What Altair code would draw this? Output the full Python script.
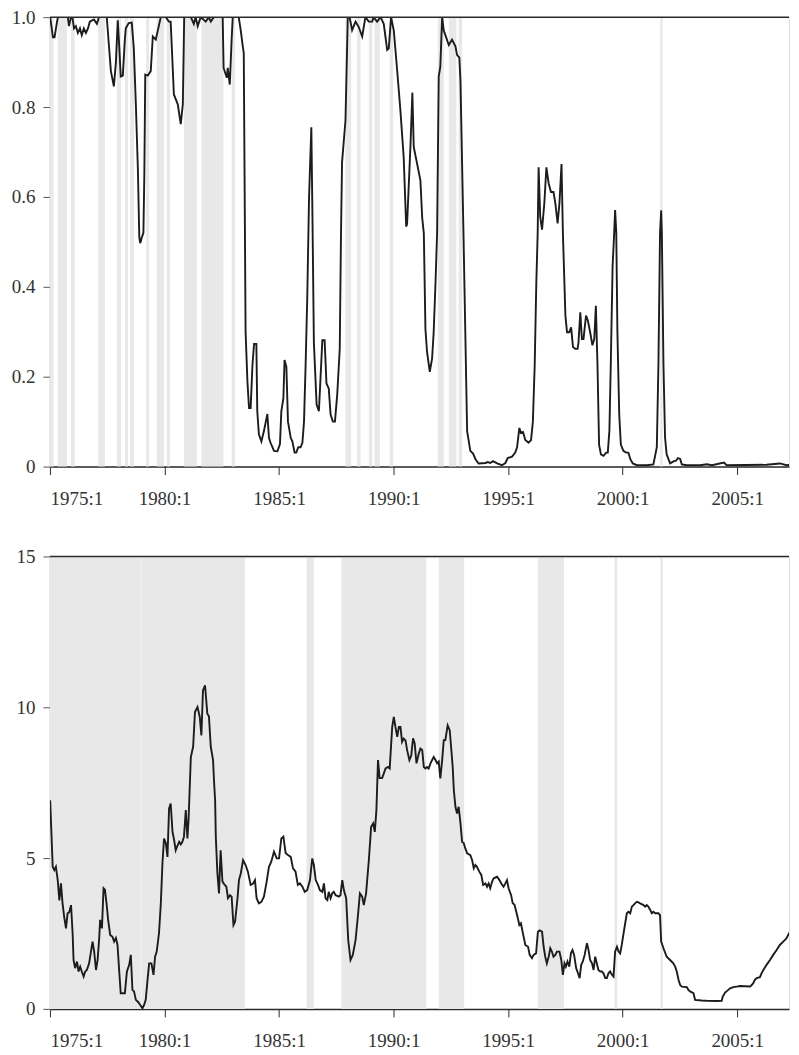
import altair as alt
import pandas as pd

# ---------------- data (decimal years, values) ----------------
top_t = [1975.01, 1975.13, 1975.20, 1975.31, 1975.35, 1975.78, 1975.83, 1975.92, 1975.98, 1976.05,
         1976.13, 1976.22, 1976.31, 1976.39, 1976.48, 1976.57, 1976.66, 1976.74, 1976.92, 1977.05,
         1977.14, 1977.48, 1977.66, 1977.79, 1977.88, 1977.96, 1978.03, 1978.09, 1978.18, 1978.27,
         1978.31, 1978.44, 1978.57, 1978.66, 1978.75, 1978.84, 1978.90, 1978.94, 1979.01, 1979.08,
         1979.12, 1979.16, 1979.27, 1979.40, 1979.49, 1979.62, 1979.75, 1979.84, 1980.06, 1980.19,
         1980.27, 1980.41, 1980.58, 1980.71, 1980.80, 1980.86, 1981.15, 1981.28, 1981.36, 1981.45,
         1981.58, 1981.80, 1981.93, 1982.02, 1982.15, 1982.54, 1982.58, 1982.72, 1982.76, 1982.85,
         1982.93, 1982.98, 1983.24, 1983.33, 1983.41, 1983.46, 1983.54, 1983.62, 1983.69, 1983.76,
         1983.84, 1983.91, 1984.01, 1984.05, 1984.12, 1984.23, 1984.34, 1984.49, 1984.56, 1984.63,
         1984.78, 1984.93, 1985.04, 1985.10, 1985.19, 1985.24, 1985.32, 1985.39, 1985.51, 1985.58,
         1985.68, 1985.75, 1985.84, 1985.94, 1986.02, 1986.09, 1986.16, 1986.23, 1986.31, 1986.41,
         1986.46, 1986.52, 1986.64, 1986.74, 1986.89, 1986.99, 1987.07, 1987.17, 1987.25, 1987.35,
         1987.44, 1987.54, 1987.65, 1987.70, 1987.75, 1987.90, 1988.00, 1988.08, 1988.19, 1988.34,
         1988.48, 1988.63, 1988.77, 1988.92, 1989.07, 1989.12, 1989.28, 1989.43, 1989.57, 1989.72,
         1989.79, 1989.89, 1990.01, 1990.16, 1990.30, 1990.44, 1990.55, 1990.59, 1990.74, 1990.82,
         1990.88, 1991.03, 1991.17, 1991.25, 1991.32, 1991.39, 1991.46, 1991.58, 1991.68, 1991.75,
         1991.83, 1991.90, 1991.97, 1992.04, 1992.12, 1992.19, 1992.26, 1992.41, 1992.55, 1992.70,
         1992.77, 1992.87, 1992.92, 1992.98, 1993.05, 1993.13, 1993.21, 1993.35, 1993.47, 1993.57,
         1993.71, 1994.01, 1994.11, 1994.22, 1994.34, 1994.52, 1994.73, 1994.88, 1994.98, 1995.17,
         1995.31, 1995.39, 1995.49, 1995.56, 1995.65, 1995.75, 1995.89, 1996.00, 1996.08, 1996.16,
         1996.23, 1996.29, 1996.33, 1996.40, 1996.48, 1996.58, 1996.67, 1996.77, 1996.87, 1996.98,
         1997.06, 1997.16, 1997.24, 1997.33, 1997.39, 1997.50, 1997.57, 1997.67, 1997.75, 1997.83,
         1997.93, 1998.03, 1998.07, 1998.15, 1998.22, 1998.29, 1998.40, 1998.48, 1998.58, 1998.68,
         1998.76, 1998.83, 1998.90, 1998.97, 1999.05, 1999.16, 1999.28, 1999.35, 1999.42, 1999.48,
         1999.56, 1999.63, 1999.67, 1999.72, 1999.77, 1999.85, 1999.92, 2000.03, 2000.15, 2000.25,
         2000.33, 2000.44, 2000.62, 2001.05, 2001.34, 2001.49, 2001.56, 2001.63, 2001.68, 2001.71,
         2001.78, 2001.85, 2001.92, 2002.07, 2002.24, 2002.33, 2002.41, 2002.51, 2002.58, 2002.80,
         2003.38, 2003.67, 2003.90, 2004.42, 2004.54, 2006.28, 2006.86, 2007.16, 2007.69]
top_v = [1.000, 0.955, 0.955, 0.990, 1.000, 1.000, 0.980, 1.000, 1.000, 0.975,
         0.980, 0.965, 0.975, 0.960, 0.975, 0.965, 0.975, 0.990, 0.995, 0.985,
         1.000, 1.000, 0.880, 0.846, 0.900, 0.993, 0.930, 0.868, 0.870, 0.950,
         0.975, 0.987, 0.988, 0.931, 0.806, 0.659, 0.510, 0.497, 0.510, 0.520,
         0.650, 0.872, 0.870, 0.880, 0.957, 0.950, 0.980, 1.000, 1.000, 0.990,
         0.990, 0.828, 0.806, 0.762, 0.806, 1.000, 1.000, 0.985, 1.000, 0.980,
         1.000, 0.990, 1.000, 0.990, 1.000, 1.000, 0.887, 0.865, 0.887, 0.850,
         0.950, 1.000, 1.000, 0.970, 0.938, 0.920, 0.300, 0.189, 0.130, 0.130,
         0.226, 0.273, 0.273, 0.123, 0.072, 0.056, 0.079, 0.117, 0.064, 0.053,
         0.035, 0.034, 0.050, 0.123, 0.152, 0.237, 0.222, 0.100, 0.064, 0.056,
         0.031, 0.031, 0.043, 0.043, 0.053, 0.100, 0.226, 0.372, 0.600, 0.755,
         0.550, 0.277, 0.138, 0.123, 0.281, 0.281, 0.185, 0.174, 0.116, 0.100,
         0.100, 0.160, 0.262, 0.500, 0.677, 0.770, 1.000, 1.000, 0.971, 0.990,
         0.978, 0.957, 1.000, 0.990, 0.990, 1.000, 0.990, 1.000, 0.985, 0.927,
         0.930, 1.000, 0.970, 0.879, 0.791, 0.689, 0.534, 0.540, 0.718, 0.832,
         0.711, 0.673, 0.637, 0.553, 0.519, 0.306, 0.255, 0.211, 0.240, 0.299,
         0.409, 0.520, 0.868, 0.890, 1.000, 0.970, 0.960, 0.938, 0.950, 0.935,
         0.916, 0.910, 0.857, 0.700, 0.520, 0.300, 0.079, 0.035, 0.029, 0.017,
         0.007, 0.008, 0.010, 0.008, 0.012, 0.007, 0.003, 0.008, 0.019, 0.022,
         0.031, 0.043, 0.086, 0.075, 0.077, 0.059, 0.053, 0.059, 0.100, 0.226,
         0.409, 0.520, 0.666, 0.556, 0.527, 0.586, 0.666, 0.630, 0.611, 0.611,
         0.586, 0.541, 0.586, 0.673, 0.520, 0.336, 0.299, 0.299, 0.310, 0.266,
         0.262, 0.262, 0.275, 0.343, 0.284, 0.284, 0.336, 0.325, 0.299, 0.270,
         0.284, 0.358, 0.226, 0.049, 0.027, 0.024, 0.031, 0.031, 0.080, 0.226,
         0.446, 0.520, 0.571, 0.520, 0.299, 0.115, 0.049, 0.035, 0.031, 0.031,
         0.017, 0.007, 0.003, 0.003, 0.005, 0.043, 0.226, 0.519, 0.570, 0.519,
         0.226, 0.064, 0.027, 0.007, 0.012, 0.013, 0.019, 0.017, 0.005, 0.003,
         0.003, 0.005, 0.003, 0.009, 0.003, 0.004, 0.007, 0.003, 0.006]

bot_t = [1975.01, 1975.12, 1975.19, 1975.26, 1975.34, 1975.41, 1975.48, 1975.55, 1975.62, 1975.70,
         1975.77, 1975.84, 1975.92, 1975.99, 1976.03, 1976.10, 1976.18, 1976.25, 1976.32, 1976.39,
         1976.47, 1976.54, 1976.61, 1976.71, 1976.79, 1976.86, 1976.93, 1977.01, 1977.08, 1977.15,
         1977.19, 1977.27, 1977.34, 1977.40, 1977.47, 1977.54, 1977.63, 1977.73, 1977.80, 1977.88,
         1977.95, 1978.02, 1978.09, 1978.17, 1978.27, 1978.36, 1978.46, 1978.53, 1978.60, 1978.67,
         1978.75, 1978.85, 1978.94, 1979.04, 1979.11, 1979.18, 1979.26, 1979.33, 1979.43, 1979.52,
         1979.59, 1979.66, 1979.76, 1979.84, 1979.91, 1979.98, 1980.06, 1980.13, 1980.20, 1980.27,
         1980.35, 1980.42, 1980.49, 1980.56, 1980.64, 1980.71, 1980.78, 1980.85, 1980.93, 1981.00,
         1981.05, 1981.15, 1981.25, 1981.33, 1981.44, 1981.54, 1981.61, 1981.68, 1981.77, 1981.87,
         1981.94, 1982.02, 1982.12, 1982.16, 1982.21, 1982.24, 1982.31, 1982.38, 1982.45, 1982.53,
         1982.63, 1982.70, 1982.77, 1982.86, 1982.93, 1983.01, 1983.08, 1983.18, 1983.25, 1983.33,
         1983.43, 1983.54, 1983.64, 1983.76, 1983.86, 1983.95, 1984.02, 1984.12, 1984.23, 1984.34,
         1984.46, 1984.56, 1984.66, 1984.78, 1984.90, 1985.00, 1985.10, 1985.19, 1985.29, 1985.39,
         1985.51, 1985.61, 1985.72, 1985.82, 1985.91, 1986.02, 1986.12, 1986.23, 1986.35, 1986.45,
         1986.52, 1986.60, 1986.70, 1986.78, 1986.89, 1986.96, 1987.03, 1987.11, 1987.17, 1987.25,
         1987.32, 1987.39, 1987.47, 1987.61, 1987.68, 1987.76, 1987.83, 1987.93, 1988.02, 1988.12,
         1988.22, 1988.34, 1988.44, 1988.53, 1988.63, 1988.70, 1988.80, 1988.92, 1989.02, 1989.11,
         1989.18, 1989.25, 1989.32, 1989.39, 1989.50, 1989.57, 1989.65, 1989.76, 1989.83, 1989.94,
         1990.01, 1990.08, 1990.16, 1990.23, 1990.30, 1990.37, 1990.44, 1990.52, 1990.59, 1990.69,
         1990.77, 1990.85, 1990.92, 1991.00, 1991.10, 1991.17, 1991.25, 1991.32, 1991.39, 1991.46,
         1991.53, 1991.61, 1991.75, 1991.83, 1991.90, 1991.97, 1992.04, 1992.12, 1992.19, 1992.26,
         1992.36, 1992.45, 1992.51, 1992.58, 1992.63, 1992.70, 1992.77, 1992.84, 1992.92, 1992.99,
         1993.06, 1993.13, 1993.21, 1993.35, 1993.43, 1993.50, 1993.57, 1993.64, 1993.74, 1993.83,
         1993.91, 1994.01, 1994.08, 1994.15, 1994.22, 1994.30, 1994.37, 1994.52, 1994.62, 1994.70,
         1994.80, 1994.88, 1994.95, 1995.02, 1995.13, 1995.20, 1995.28, 1995.39, 1995.49, 1995.56,
         1995.63, 1995.75, 1995.87, 1995.94, 1996.04, 1996.11, 1996.22, 1996.30, 1996.37, 1996.48,
         1996.55, 1996.62, 1996.69, 1996.77, 1996.84, 1996.91, 1996.98, 1997.06, 1997.13, 1997.24,
         1997.32, 1997.39, 1997.46, 1997.52, 1997.59, 1997.67, 1997.74, 1997.81, 1997.88, 1997.97,
         1998.05, 1998.12, 1998.19, 1998.26, 1998.34, 1998.44, 1998.51, 1998.58, 1998.66, 1998.73,
         1998.80, 1998.87, 1998.94, 1999.02, 1999.09, 1999.16, 1999.24, 1999.31, 1999.38, 1999.45,
         1999.53, 1999.60, 1999.67, 1999.75, 1999.82, 1999.89, 1999.96, 2000.04, 2000.11, 2000.18,
         2000.25, 2000.33, 2000.40, 2000.47, 2000.54, 2000.62, 2000.69, 2000.76, 2000.91, 2000.98,
         2001.05, 2001.12, 2001.20, 2001.27, 2001.34, 2001.42, 2001.56, 2001.63, 2001.68, 2001.78,
         2001.92, 2002.07, 2002.21, 2002.29, 2002.36, 2002.44, 2002.51, 2002.58, 2002.80, 2002.87,
         2002.94, 2003.09, 2003.16, 2003.45, 2003.67, 2004.11, 2004.32, 2004.37, 2004.47, 2004.61,
         2004.69, 2004.83, 2004.98, 2005.12, 2005.56, 2005.63, 2005.70, 2005.77, 2005.85, 2005.99,
         2006.06, 2006.14, 2006.28, 2006.43, 2006.57, 2006.72, 2006.86, 2007.01, 2007.15, 2007.30,
         2007.44, 2007.52, 2007.59, 2007.69]
bot_v = [6.92, 4.71, 4.60, 4.71, 4.27, 3.60, 4.16, 3.50, 3.06, 2.67,
         3.17, 3.20, 3.44, 2.51, 1.62, 1.35, 1.57, 1.24, 1.40, 1.24,
         1.07, 1.24, 1.29, 1.51, 1.90, 2.23, 1.90, 1.29, 1.62, 2.34,
         2.95, 2.67, 4.00, 3.95, 3.50, 2.95, 2.45, 2.39, 2.23, 2.35,
         2.12, 1.29, 0.52, 0.52, 0.52, 1.24, 1.46, 1.79, 0.63, 0.58,
         0.30, 0.23, 0.13, 0.02, 0.13, 0.30, 0.96, 1.51, 1.51, 1.13,
         1.73, 1.90, 2.51, 3.50, 4.82, 5.65, 5.49, 5.04, 6.65, 6.81,
         5.87, 5.60, 5.26, 5.40, 5.54, 5.45, 5.54, 5.71, 6.59, 5.65,
         6.26, 8.35, 8.69, 9.84, 10.01, 9.68, 9.07, 10.56, 10.73, 9.79,
         9.70, 8.69, 8.25, 7.58, 6.92, 5.70, 4.49, 3.83, 5.26, 4.22,
         4.11, 4.05, 3.67, 3.77, 3.72, 2.78, 2.89, 3.61, 4.27, 4.49,
         4.93, 4.77, 4.55, 4.11, 4.15, 4.27, 3.67, 3.50, 3.55, 3.72,
         4.22, 4.71, 4.88, 5.21, 4.99, 4.99, 5.65, 5.71, 5.16, 5.10,
         5.04, 4.66, 4.55, 4.11, 4.16, 4.05, 3.88, 3.94, 4.27, 4.99,
         4.77, 4.27, 4.11, 3.94, 3.88, 4.16, 3.67, 3.61, 3.88, 3.67,
         3.83, 3.88, 3.77, 3.72, 3.77, 4.27, 3.94, 3.67, 2.28, 1.62,
         1.79, 2.28, 3.06, 3.83, 3.72, 3.44, 3.83, 4.93, 6.04, 6.15,
         5.87, 6.59, 8.25, 7.65, 7.65, 7.80, 7.97, 8.02, 7.97, 9.35,
         9.68, 9.35, 9.02, 9.35, 9.35, 8.85, 8.96, 8.90, 8.58, 8.25,
         8.40, 8.97, 8.80, 8.14, 8.47, 8.63, 8.58, 8.02, 7.97, 8.02,
         7.97, 8.14, 8.35, 8.25, 8.14, 8.20, 7.64, 8.25, 8.91, 8.91,
         9.40, 9.24, 8.69, 8.02, 7.25, 6.70, 6.48, 6.70, 6.15, 5.54,
         5.50, 5.32, 5.16, 5.10, 4.93, 4.66, 4.77, 4.71, 4.55, 4.44,
         4.11, 4.16, 4.05, 4.16, 4.00, 4.22, 4.33, 4.38, 4.27, 4.16,
         4.05, 4.16, 4.27, 4.00, 3.77, 3.50, 3.45, 3.11, 2.78, 2.84,
         2.56, 2.12, 2.06, 1.79, 1.68, 1.79, 1.84, 2.56, 2.60, 2.56,
         2.06, 1.73, 1.51, 1.73, 2.01, 1.90, 1.73, 1.79, 1.90, 1.90,
         1.62, 1.13, 1.51, 1.40, 1.57, 1.40, 1.84, 1.95, 1.79, 1.35,
         1.18, 1.02, 1.46, 1.57, 1.79, 2.18, 1.95, 1.62, 1.51, 1.29,
         1.73, 1.51, 1.29, 1.24, 1.24, 1.18, 1.02, 1.02, 1.18, 1.24,
         1.13, 1.07, 1.90, 2.06, 1.90, 1.84, 2.12, 2.51, 2.84, 3.17,
         3.22, 3.17, 3.39, 3.44, 3.50, 3.55, 3.53, 3.50, 3.44, 3.39,
         3.44, 3.39, 3.28, 3.17, 3.22, 3.17, 3.17, 3.11, 2.23, 2.01,
         1.73, 1.62, 1.51, 1.40, 1.24, 0.96, 0.79, 0.74, 0.72, 0.63,
         0.58, 0.52, 0.30, 0.28, 0.27, 0.26, 0.27, 0.41, 0.54, 0.63,
         0.68, 0.72, 0.74, 0.76, 0.74, 0.79, 0.85, 0.96, 1.02, 1.05,
         1.18, 1.29, 1.46, 1.62, 1.79, 1.95, 2.12, 2.23, 2.34, 2.56,
         2.78, 2.89, 2.84, 2.73]

top_band_start = [1975.00, 1975.34, 1975.92, 1977.11, 1977.92, 1978.27, 1978.50, 1979.20,
                  1979.66, 1980.10, 1980.85, 1981.61, 1982.93, 1987.90, 1988.41, 1988.92,
                  1989.17, 1989.83, 1991.93, 1992.41, 1992.84, 2001.64]
top_band_end = [1975.16, 1975.74, 1976.08, 1977.40, 1978.10, 1978.41, 1978.67, 1979.33,
                1979.98, 1980.24, 1981.41, 1982.57, 1983.08, 1988.15, 1988.56, 1989.07,
                1989.40, 1989.98, 1992.19, 1992.74, 1992.99, 2001.74]

bot_band_start = [1975.00, 1979.005, 1986.20, 1987.72, 1991.97, 1996.30, 1999.64, 2001.65]
bot_band_end = [1978.995, 1983.51, 1986.52, 1991.43, 1993.08, 1997.44, 1999.76, 2001.75]

x_ticks = [1975, 1980, 1985, 1990, 1995, 2000, 2005]
top_y_ticks = [0, 0.2, 0.4, 0.6, 0.8, 1.0]
bot_y_ticks = [0, 5, 10, 15]

X_DOMAIN = [1975.0, 2007.26]
FONT = "Liberation Serif, Times New Roman, serif"

top_line_df = pd.DataFrame({"t": top_t, "v": top_v})
bot_line_df = pd.DataFrame({"t": bot_t, "v": bot_v})
top_band_df = pd.DataFrame({"start": top_band_start, "end": top_band_end})
bot_band_df = pd.DataFrame({"start": bot_band_start, "end": bot_band_end})


def make_panel(line_df, band_df, ymax, yticks, ylabel_expr, height):
    xs = alt.Scale(domain=X_DOMAIN, nice=False, zero=False)
    ys = alt.Scale(domain=[0, ymax], nice=False, zero=True)
    xaxis = alt.Axis(values=x_ticks, labelExpr="datum.value + ':1'", title=None, grid=False,
                     domainColor="#2b2b2b", domainWidth=1.5, tickColor="#2b2b2b", tickSize=8,
                     labelPadding=15, labelFont=FONT, labelFontSize=19, labelColor="#333333")
    yaxis_kwargs = dict(values=yticks, title=None, grid=False, domainColor="#7a7a7a",
                        domainWidth=1.2, tickColor="#555555", tickSize=7, labelPadding=8,
                        labelFont=FONT, labelFontSize=19, labelColor="#333333")
    if ylabel_expr:
        yaxis_kwargs["labelExpr"] = ylabel_expr
    yaxis = alt.Axis(**yaxis_kwargs)

    bands = alt.Chart(band_df).mark_rect(color="#e8e8e8").encode(
        x=alt.X("start:Q", scale=xs, axis=xaxis),
        x2="end:Q",
    )
    line = alt.Chart(line_df).mark_line(color="#1c1c1c", strokeWidth=1.9, clip=True).encode(
        x=alt.X("t:Q", scale=xs, axis=xaxis),
        y=alt.Y("v:Q", scale=ys, axis=yaxis),
    )
    top_rule = alt.Chart(pd.DataFrame({"v": [ymax]})).mark_rule(color="#2b2b2b", strokeWidth=1.5).encode(
        y=alt.Y("v:Q", scale=ys, axis=yaxis),
    )
    return alt.layer(bands, line, top_rule).properties(width=740, height=height)


top_panel = make_panel(top_line_df, top_band_df, 1.0, top_y_ticks,
                       "datum.value == 0 ? '0' : format(datum.value, '.1f')", 450)
bot_panel = make_panel(bot_line_df, bot_band_df, 15, bot_y_ticks, None, 453)

chart = alt.vconcat(top_panel, bot_panel, spacing=90, bounds="flush").properties(
    padding={"left": 2, "top": -1.5, "right": 0, "bottom": 0}
).configure_view(stroke=None).configure(background="white")

chart.save("out.html", embed_options={"renderer": "svg", "actions": False})
